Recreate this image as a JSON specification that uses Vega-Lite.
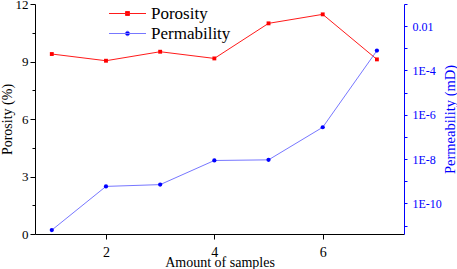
{
  "$schema": "https://vega.github.io/schema/vega-lite/v6.json",
  "width": 369,
  "height": 230,
  "autosize": {"type": "none"},
  "padding": {"left": 35, "top": 4, "right": 53, "bottom": 35},
  "config": {
    "view": {"stroke": null},
    "font": "Liberation Serif",
    "axis": {
      "grid": false,
      "labelFont": "Liberation Serif",
      "titleFont": "Liberation Serif",
      "titleFontWeight": "normal",
      "domainColor": "#000000",
      "tickColor": "#000000",
      "labelColor": "#000000",
      "titleColor": "#000000"
    },
    "legend": {
      "labelFont": "Liberation Serif",
      "labelFontSize": 17,
      "labelColor": "#000000",
      "symbolSize": 100,
      "symbolStrokeWidth": 1,
      "labelOffset": 15
    }
  },
  "data": {
    "values": [
      {"sample": 1, "porosity": 9.39, "perm": 6.3e-12},
      {"sample": 2, "porosity": 9.04, "perm": 5.9e-10},
      {"sample": 3, "porosity": 9.51, "perm": 7.1e-10},
      {"sample": 4, "porosity": 9.16, "perm": 8.7e-9},
      {"sample": 5, "porosity": 10.99, "perm": 9.3e-9},
      {"sample": 6, "porosity": 11.46, "perm": 2.75e-7},
      {"sample": 7, "porosity": 9.11, "perm": 7.9e-4}
    ]
  },
  "encoding": {
    "x": {
      "field": "sample",
      "type": "quantitative",
      "scale": {"domain": [0.69, 7.5], "nice": false, "zero": false},
      "axis": {
        "values": [2, 4, 6],
        "title": "Amount of samples",
        "titleFontSize": 14,
        "labelFontSize": 14,
        "tickSize": 5,
        "labelPadding": 6,
        "titlePadding": -4,
        "labelFlush": false
      }
    }
  },
  "layer": [
    {
      "encoding": {
        "y": {
          "field": "porosity",
          "type": "quantitative",
          "scale": {"domain": [0, 12], "nice": false},
          "axis": {
            "orient": "left",
            "values": [0, 1.5, 3, 4.5, 6, 7.5, 9, 10.5, 12],
            "labelExpr": "datum.value % 3 === 0 ? datum.label : ''",
            "tickSize": {"condition": {"test": "datum.value % 3 === 0", "value": 5}, "value": 3},
            "title": "Porosity (%)",
            "titleFontSize": 14,
            "labelFontSize": 13,
            "labelPadding": 2,
            "titlePadding": 1
          }
        }
      },
      "layer": [
        {"mark": {"type": "line", "color": "#ff1a1a", "strokeWidth": 1}},
        {
          "mark": {"type": "point", "shape": "square", "filled": true, "size": 15, "opacity": 1},
          "encoding": {
            "color": {
              "datum": "Porosity",
              "scale": {"domain": ["Porosity"], "range": ["#ff0000"]},
              "legend": {
                "title": null,
                "orient": "none",
                "legendX": 84,
                "legendY": 1,
                "symbolType": "M-3.7,0H3.7M-0.4,-0.4H0.4V0.4H-0.4Z",
                "symbolStrokeColor": "#ff1a1a",
                "symbolFillColor": "#ff0000"
              }
            }
          }
        }
      ]
    },
    {
      "encoding": {
        "y": {
          "field": "perm",
          "type": "quantitative",
          "scale": {"type": "log", "domain": [4.2e-12, 0.1], "nice": false},
          "axis": {
            "orient": "right",
            "values": [1e-11, 1e-10, 1e-9, 1e-8, 1e-7, 1e-6, 1e-5, 1e-4, 1e-3, 1e-2, 1e-1],
            "labelExpr": "abs(round(log(datum.value)/LN10)) % 2 === 0 ? (round(log(datum.value)/LN10) === -2 ? '0.01' : '1E' + round(log(datum.value)/LN10)) : ''",
            "tickSize": 3,
            "title": "Permeability (mD)",
            "titleAngle": 270,
            "titleBaseline": "top",
            "titleFontSize": 14.5,
            "labelFontSize": 12,
            "labelPadding": 5,
            "titlePadding": 2,
            "domainColor": "#0000ff",
            "tickColor": "#0000ff",
            "labelColor": "#0000ff",
            "titleColor": "#0000ff"
          }
        }
      },
      "layer": [
        {"mark": {"type": "line", "color": "#7777ff", "strokeWidth": 1}},
        {
          "mark": {"type": "point", "shape": "circle", "filled": true, "size": 18, "opacity": 1},
          "encoding": {
            "fill": {
              "datum": "Permability",
              "scale": {"domain": ["Permability"], "range": ["#0000ff"]},
              "legend": {
                "title": null,
                "orient": "none",
                "legendX": 84,
                "legendY": 21,
                "symbolType": "M-3.7,0H3.7M0.45,0A0.45,0.45 0 1,1 -0.45,0A0.45,0.45 0 1,1 0.45,0Z",
                "symbolStrokeColor": "#7777ff",
                "symbolFillColor": "#0000ff"
              }
            }
          }
        }
      ]
    }
  ],
  "resolve": {"scale": {"y": "independent"}}
}
